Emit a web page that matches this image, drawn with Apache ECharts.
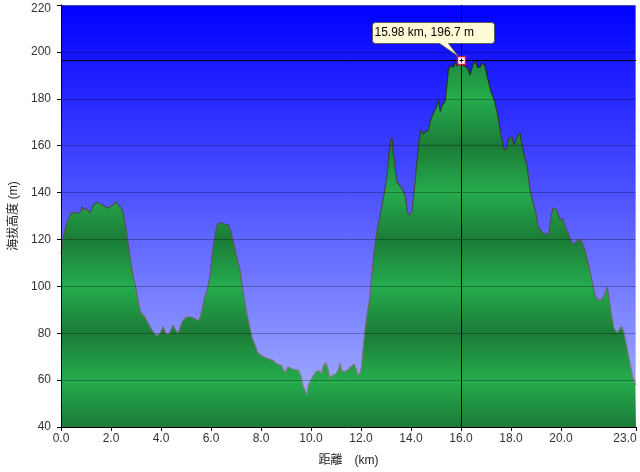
<!DOCTYPE html>
<html><head><meta charset="utf-8">
<script src="https://cdn.jsdelivr.net/npm/echarts@6/dist/echarts.min.js"></script>
<style>html,body{margin:0;padding:0;background:#fff}#c{width:640px;height:472px}</style>
</head><body><div id="c"></div>
<script>
// ---- data ----
const distanceKm = [
  0.00,0.03,0.09,0.23,0.36,0.47,0.56,0.69,0.79,0.85,
  0.89,1.03,1.16,1.29,1.43,1.56,1.69,1.83,1.96,2.09,
  2.19,2.29,2.43,2.49,2.56,2.63,2.69,2.76,2.83,2.89,
  2.96,3.03,3.09,3.16,3.23,3.29,3.36,3.45,3.56,3.69,
  3.83,3.96,4.09,4.20,4.33,4.49,4.60,4.69,4.77,4.85,
  4.96,5.09,5.23,5.29,5.39,5.52,5.63,5.73,5.83,5.89,
  5.96,6.03,6.09,6.16,6.23,6.29,6.43,6.52,6.60,6.69,
  6.80,6.89,7.03,7.16,7.29,7.43,7.56,7.65,7.76,7.87,
  8.00,8.16,8.36,8.49,8.63,8.80,8.89,8.96,9.07,9.16,
  9.29,9.49,9.59,9.67,9.76,9.83,9.89,9.96,10.07,10.20,
  10.33,10.43,10.49,10.60,10.69,10.76,10.87,11.00,11.09,11.16,
  11.23,11.36,11.49,11.63,11.72,11.80,11.87,11.96,12.03,12.09,
  12.16,12.25,12.36,12.43,12.52,12.63,12.73,12.83,12.92,13.03,
  13.12,13.19,13.24,13.29,13.36,13.43,13.51,13.59,13.67,13.76,
  13.87,13.96,14.05,14.13,14.23,14.32,14.40,14.49,14.59,14.69,
  14.76,14.89,15.03,15.09,15.17,15.25,15.36,15.43,15.49,15.60,
  15.69,15.76,15.84,15.98,16.09,16.17,16.27,16.36,16.47,16.56,
  16.67,16.76,16.85,16.96,17.07,17.20,17.33,17.47,17.60,17.73,
  17.83,17.92,18.03,18.13,18.27,18.36,18.47,18.56,18.65,18.76,
  18.89,19.00,19.09,19.19,19.29,19.40,19.49,19.59,19.67,19.76,
  19.85,19.96,20.07,20.16,20.29,20.43,20.56,20.69,20.83,20.96,
  21.09,21.23,21.36,21.49,21.63,21.76,21.85,21.93,22.03,22.12,
  22.23,22.33,22.43,22.52,22.63,22.76,22.87,22.96,23.00
];
const elevationM = [
  114.0,115.5,121.2,126.9,130.4,131.8,131.2,131.2,131.8,134.0,
  132.9,132.9,131.4,134.7,135.8,135.1,134.7,133.3,134.0,134.7,
  136.1,134.7,132.9,131.2,126.9,122.6,117.6,112.6,107.7,104.1,
  100.6,97.0,93.4,89.9,88.2,88.8,87.0,84.9,82.8,80.6,
  78.9,80.0,82.8,79.7,79.9,83.5,81.0,80.2,80.5,84.9,
  86.4,87.0,86.8,87.3,85.9,85.3,89.2,94.5,97.7,98.2,
  104.1,111.2,116.9,121.9,125.4,126.9,127.1,126.6,127.4,126.2,
  123.3,119.0,112.6,107.0,97.0,88.5,82.1,77.8,75.0,71.7,
  70.6,69.7,68.9,68.3,66.9,66.4,64.6,63.2,65.5,65.3,
  64.6,64.3,62.2,57.9,55.8,53.6,57.9,57.2,61.5,63.6,
  64.0,62.9,66.0,67.4,64.3,60.8,62.2,62.6,64.3,67.2,
  64.0,63.6,64.6,66.0,66.9,65.0,62.2,62.9,66.4,74.3,
  81.4,88.5,95.6,104.1,114.1,123.3,128.3,134.0,139.0,146.1,
  156.8,162.4,163.6,157.4,151.0,144.6,145.4,142.5,141.8,139.0,
  131.2,130.4,132.6,141.1,152.5,162.4,166.7,165.0,166.0,166.4,
  170.2,173.8,176.6,179.8,174.5,177.4,178.8,185.2,192.3,194.4,
  193.4,195.8,194.0,196.7,194.4,195.1,193.0,190.1,194.4,196.2,
  193.4,193.4,195.4,194.0,188.7,183.0,179.5,173.1,164.6,158.2,
  158.9,163.2,163.6,160.3,164.6,165.3,158.9,154.6,151.0,141.1,
  135.4,131.2,125.4,124.0,122.6,122.6,121.5,128.3,133.3,133.3,
  131.8,128.3,129.0,125.4,122.6,118.6,118.1,120.1,119.0,115.5,
  109.8,102.7,96.3,93.9,94.2,97.0,99.6,94.2,87.0,82.1,
  80.2,81.4,82.8,80.0,74.3,67.2,61.5,58.6,58.0
];
const xTickValues = [0,2,4,6,8,10,12,14,16,18,20,23];
const xMin = 0, xMax = 23;
const yMin = 40, yMax = 220, yStep = 20;
const cursorKm = [15.98];
const cursorM = [196.7];
const xAxisName = '距離　(km)';
const yAxisName = '海拔高度 (m)';

// ---- chart ----
const FONT = "'Liberation Sans', 'Noto Sans CJK JP', sans-serif";
const chart = echarts.init(document.getElementById('c'), null, {renderer: 'canvas'});
const points = distanceKm.map((d, i) => [d, elevationM[i]]);

const dark = '#1b7c37', light = '#25ac4d';
const topV = Math.max(...elevationM), span = topV - yMin;
const areaStops = [];
for (let v = yMax; v >= yMin; v -= yStep) {
  if (v > topV) continue;
  areaStops.push({offset: (topV - v) / span, color: (((v - yMin) / yStep) % 2 === 0) ? dark : light});
}
areaStops.unshift({offset: 0, color: '#1e8a3c'});

const lineGrad = new echarts.graphic.LinearGradient(0, 0, 0, 1, [
  {offset: 0, color: '#1c2a1c'}, {offset: 0.45, color: '#4a4f4a'}, {offset: 1, color: '#8a8290'}
]);

function renderCursor(params, api) {
  const p = api.coord([api.value(0), api.value(1)]);
  const cs = params.coordSys;
  const x = Math.round(p[0]) + 0.5, y = Math.round(p[1]) + 0.5;
  const l = x - 89, r = x + 33, t = y - 38, b = y - 17, rr = 3;
  const tl = x - 22, tr = x - 13;
  const path = 'M' + (l + rr) + ' ' + t + ' L' + (r - rr) + ' ' + t + ' Q' + r + ' ' + t + ' ' + r + ' ' + (t + rr) +
    ' L' + r + ' ' + (b - rr) + ' Q' + r + ' ' + b + ' ' + (r - rr) + ' ' + b +
    ' L' + tr + ' ' + b + ' L' + (x - 3) + ' ' + (y - 4) + ' L' + tl + ' ' + b +
    ' L' + (l + rr) + ' ' + b + ' Q' + l + ' ' + b + ' ' + l + ' ' + (b - rr) +
    ' L' + l + ' ' + (t + rr) + ' Q' + l + ' ' + t + ' ' + (l + rr) + ' ' + t + ' Z';
  const label = api.value(0).toFixed(2) + ' km, ' + api.value(1).toFixed(1) + ' m';
  return {
    type: 'group',
    children: [
      {type: 'line', shape: {x1: x, y1: cs.y, x2: x, y2: cs.y + cs.height}, style: {stroke: '#000', lineWidth: 1}},
      {type: 'line', shape: {x1: cs.x, y1: y, x2: cs.x + cs.width, y2: y}, style: {stroke: '#000', lineWidth: 1}},
      {type: 'rect', shape: {x: x - 4, y: y - 4, width: 8, height: 8}, style: {fill: '#fff', stroke: '#e0103a', lineWidth: 1.5}},
      {type: 'line', shape: {x1: x - 2, y1: y, x2: x + 2, y2: y}, style: {stroke: '#000', lineWidth: 1}},
      {type: 'line', shape: {x1: x, y1: y - 2, x2: x, y2: y + 2}, style: {stroke: '#000', lineWidth: 1}},
      {type: 'path', shape: {pathData: path}, style: {fill: '#fffbd6', stroke: '#5a5a5a', lineWidth: 1}},
      {type: 'text', style: {x: l + 2, y: (t + b) / 2, text: label, font: '12px ' + FONT, fill: '#000', verticalAlign: 'middle', align: 'left'}}
    ]
  };
}

chart.setOption({
  backgroundColor: '#fff',
  animation: false,
  textStyle: {fontFamily: FONT},
  grid: {
    left: 61, right: 4, top: 5, bottom: 45, show: true,
    containLabel: false, outerBoundsMode: 'none',
    borderColor: 'rgba(255,255,255,0.75)', borderWidth: 1,
    backgroundColor: new echarts.graphic.LinearGradient(0, 0, 0, 1, [
      {offset: 0, color: '#0000ff'}, {offset: 1, color: '#adb8ff'}
    ])
  },
  xAxis: {
    type: 'value', min: xMin, max: xMax, z: 3,
    name: xAxisName, nameLocation: 'middle', nameGap: 28,
    nameTextStyle: {fontSize: 12, color: '#222', fontFamily: FONT},
    axisLine: {show: true, onZero: false, lineStyle: {color: '#000', width: 1}},
    axisTick: {show: true, length: 4, customValues: xTickValues, lineStyle: {color: '#000'}},
    axisLabel: {
      customValues: xTickValues, margin: 6, fontSize: 12, color: '#333', fontFamily: FONT,
      formatter: v => v === xMax ? '{end|' + v.toFixed(1) + '}' : v.toFixed(1),
      rich: {end: {fontSize: 12, color: '#333', fontFamily: FONT, padding: [0, 22, 0, 0]}}
    },
    splitLine: {show: false}
  },
  yAxis: {
    type: 'value', min: yMin, max: yMax, interval: yStep, z: 3,
    name: yAxisName, nameLocation: 'middle', nameGap: 41, nameRotate: 90,
    nameTextStyle: {fontSize: 12, color: '#222', fontFamily: FONT},
    axisLine: {show: true, lineStyle: {color: '#000', width: 1}},
    axisTick: {show: true, length: 4, lineStyle: {color: '#000'}},
    axisLabel: {
      margin: 10, fontSize: 12, color: '#333', fontFamily: FONT,
      formatter: v => v === yMax ? '{top|' + v + '}' : String(v),
      rich: {top: {fontSize: 12, color: '#333', fontFamily: FONT, padding: [8, 0, 0, 0]}}
    },
    splitLine: {show: true, lineStyle: {color: 'rgba(0,0,0,0.28)', width: 1}}
  },
  series: [
    {
      type: 'line', data: points, showSymbol: false, symbol: 'none', sampling: null, z: 2,
      lineStyle: {color: lineGrad, width: 1.2},
      areaStyle: {origin: 'start', opacity: 1, color: new echarts.graphic.LinearGradient(0, 0, 0, 1, areaStops)}
    },
    {
      type: 'custom', z: 10, silent: true, clip: false,
      data: [[cursorKm[0], cursorM[0]]],
      renderItem: renderCursor
    }
  ]
});
</script>
</body></html>
